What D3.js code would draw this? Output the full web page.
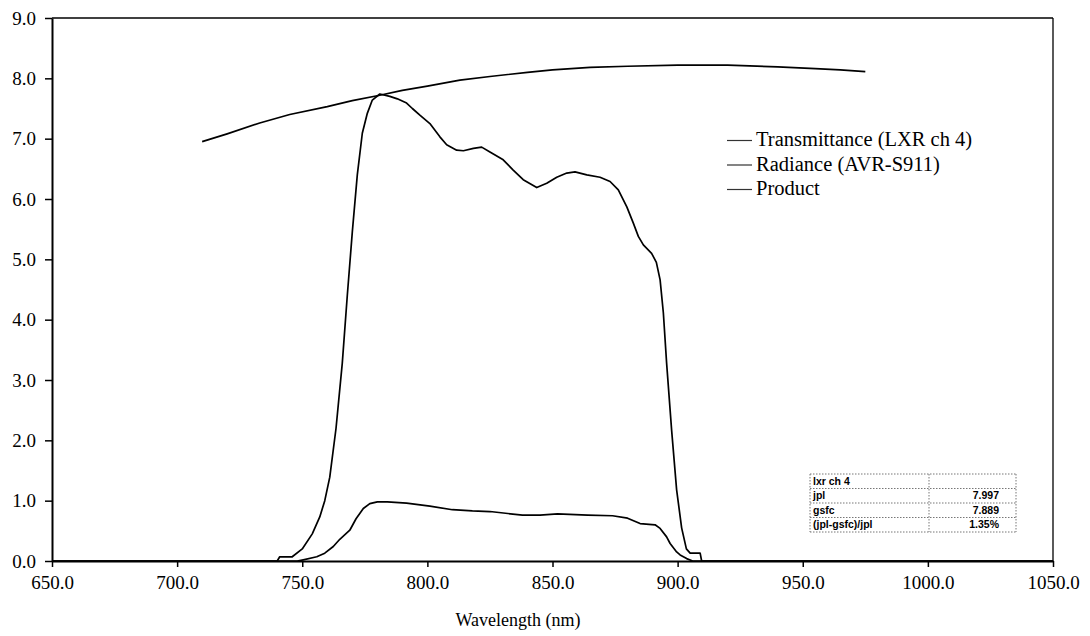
<!DOCTYPE html>
<html>
<head>
<meta charset="utf-8">
<script src="https://cdn.jsdelivr.net/npm/d3@7/dist/d3.min.js"></script>
<style>
  html, body { margin: 0; padding: 0; background: #fff; }
  svg { display: block; }
</style>
</head>
<body>
<svg id="chart" width="1090" height="636"></svg>
<script>
// ---- data ----
const xTicks = [650, 700, 750, 800, 850, 900, 950, 1000, 1050];
const yTicks = [0, 1, 2, 3, 4, 5, 6, 7, 8, 9];

const transWl = [650, 740, 741, 746, 750, 754, 757, 759, 761, 763.5, 766, 768, 770, 772, 774, 776, 778, 781, 785, 788, 791.7, 794, 797, 801, 805, 807.7, 811.7, 814.4, 818.4, 821.7, 825, 830.3, 834.3, 838.3, 843.7, 847.7, 851.7, 855.7, 859, 863.7, 869, 873, 876.3, 879.7, 882.3, 884.3, 886.3, 889.6, 891.5, 893, 894.3, 895.6, 897.6, 899.6, 901.6, 903.5, 905, 909, 909.6, 1050];
const transVal = [0, 0, 0.07, 0.07, 0.2, 0.45, 0.73, 1.0, 1.39, 2.2, 3.28, 4.4, 5.45, 6.4, 7.09, 7.42, 7.64, 7.74, 7.70, 7.66, 7.59, 7.50, 7.39, 7.25, 7.03, 6.90, 6.81, 6.80, 6.84, 6.86, 6.78, 6.65, 6.48, 6.32, 6.19, 6.26, 6.36, 6.43, 6.45, 6.40, 6.36, 6.29, 6.15, 5.87, 5.60, 5.38, 5.24, 5.10, 4.95, 4.66, 4.11, 3.28, 2.17, 1.18, 0.55, 0.2, 0.13, 0.13, 0, 0];

const radWl = [710, 720, 733, 745, 760, 770, 781, 790, 800, 813, 825, 840, 850, 865, 880, 900, 920, 940, 955, 965, 975];
const radVal = [6.95, 7.08, 7.26, 7.40, 7.53, 7.63, 7.72, 7.80, 7.87, 7.97, 8.03, 8.10, 8.14, 8.18, 8.20, 8.22, 8.22, 8.19, 8.16, 8.14, 8.11];

const prodWl = [650, 748, 750.4, 755.8, 759, 762.4, 765, 769, 771.5, 774.4, 777, 780, 784, 791.7, 801, 810, 818, 825, 838, 845, 852, 864, 874, 880, 885, 891, 893, 895.6, 897, 899.6, 901, 903.6, 906, 1050];
const prodVal = [0, 0, 0.02, 0.07, 0.13, 0.24, 0.36, 0.51, 0.7, 0.87, 0.95, 0.98, 0.98, 0.96, 0.91, 0.85, 0.83, 0.82, 0.76, 0.76, 0.78, 0.76, 0.75, 0.71, 0.62, 0.60, 0.54, 0.40, 0.29, 0.15, 0.10, 0.04, 0, 0];

const legendLabels = ["Transmittance (LXR ch 4)", "Radiance (AVR-S911)", "Product"];
const tableRows = [["lxr ch 4", ""], ["jpl", "7.997"], ["gsfc", "7.889"], ["(jpl-gsfc)/jpl", "1.35%"]];
const xTitle = "Wavelength (nm)";

// ---- layout ----
const SERIF = "'Liberation Serif', 'Times New Roman', serif";
const SANS = "'Liberation Sans', Arial, sans-serif";
const svg = d3.select("#chart");
const L = 52, R = 1053, T = 18, B = 561;
const x = d3.scaleLinear().domain([650, 1050]).range([L, R]);
const y = d3.scaleLinear().domain([0, 9]).range([B, T]);

svg.append("rect").attr("width", 1090).attr("height", 636).attr("fill", "#fff");

// frame top and right
svg.append("line").attr("x1", L).attr("x2", R).attr("y1", T).attr("y2", T)
  .attr("stroke", "#000").attr("stroke-width", 1.3);
svg.append("line").attr("x1", R).attr("x2", R).attr("y1", T).attr("y2", B)
  .attr("stroke", "#000").attr("stroke-width", 1.3);

// axes
const xAxis = d3.axisBottom(x).tickValues(xTicks).tickFormat(d3.format(".1f")).tickSize(6).tickSizeOuter(0);
const yAxis = d3.axisLeft(y).tickValues(yTicks).tickFormat(d3.format(".1f")).tickSize(7).tickSizeOuter(0);

const gx = svg.append("g").attr("transform", `translate(0,${B})`).call(xAxis)
  .attr("font-family", SERIF).attr("font-size", 19);
gx.select(".domain").attr("stroke", "#000").attr("stroke-width", 2);
gx.selectAll(".tick line").attr("stroke", "#000").attr("stroke-width", 1.5);
gx.selectAll(".tick text").attr("font-family", SERIF).attr("font-size", 19)
  .attr("fill", "#000").attr("dy", "1.05em").attr("y", 8);

const gy = svg.append("g").attr("transform", `translate(${L},0)`).call(yAxis)
  .attr("font-family", SERIF).attr("font-size", 19);
gy.select(".domain").attr("stroke", "#000").attr("stroke-width", 2);
gy.selectAll(".tick line").attr("stroke", "#000").attr("stroke-width", 1.5);
gy.selectAll(".tick text").attr("font-family", SERIF).attr("font-size", 19)
  .attr("fill", "#000").attr("x", -16);

// x title
svg.append("text").attr("x", 518).attr("y", 626).attr("text-anchor", "middle")
  .attr("font-family", SERIF).attr("font-size", 18)
  .text(xTitle);

// curves
const line = d3.line().x(d => x(d[0])).y(d => y(d[1]));
const series = [
  d3.zip(transWl, transVal),
  d3.zip(radWl, radVal),
  d3.zip(prodWl, prodVal)
];
svg.append("g").selectAll("path").data(series).join("path")
  .attr("d", line).attr("fill", "none").attr("stroke", "#000")
  .attr("stroke-width", 1.7).attr("stroke-linejoin", "round");

// legend
const lg = svg.append("g").attr("transform", "translate(727,146)");
legendLabels.forEach((t, i) => {
  const gy0 = i * 24.5;
  lg.append("line").attr("x1", 0).attr("x2", 25).attr("y1", gy0 - 5.5).attr("y2", gy0 - 5.5)
    .attr("stroke", "#333").attr("stroke-width", 1.2);
  lg.append("text").attr("x", 29).attr("y", gy0)
    .attr("font-family", SERIF).attr("font-size", 20.5)
    .attr("fill", "#000").text(t);
});

// data table
const tx0 = 810, tx1 = 929, tx2 = 1016, ty0 = 474, rowH = 14.5;
const tg = svg.append("g");
const dotted = sel => sel.attr("stroke", "#777").attr("stroke-width", 1).attr("stroke-dasharray", "1.5,1.5");
for (let i = 0; i <= tableRows.length; i++) {
  tg.append("line").attr("x1", tx0).attr("x2", tx2).attr("y1", ty0 + i * rowH).attr("y2", ty0 + i * rowH).call(dotted);
}
[tx0, tx1, tx2].forEach(xx => {
  tg.append("line").attr("x1", xx).attr("x2", xx).attr("y1", ty0).attr("y2", ty0 + tableRows.length * rowH).call(dotted);
});
tableRows.forEach((r, i) => {
  const by = ty0 + i * rowH + 10.5;
  tg.append("text").attr("x", tx0 + 3).attr("y", by)
    .attr("font-family", SANS).attr("font-size", 10.5).attr("font-weight", "bold")
    .text(r[0]);
  if (r[1]) tg.append("text").attr("x", 999).attr("y", by).attr("text-anchor", "end")
    .attr("font-family", SANS).attr("font-size", 10.5).attr("font-weight", "bold")
    .text(r[1]);
});
</script>
</body>
</html>
